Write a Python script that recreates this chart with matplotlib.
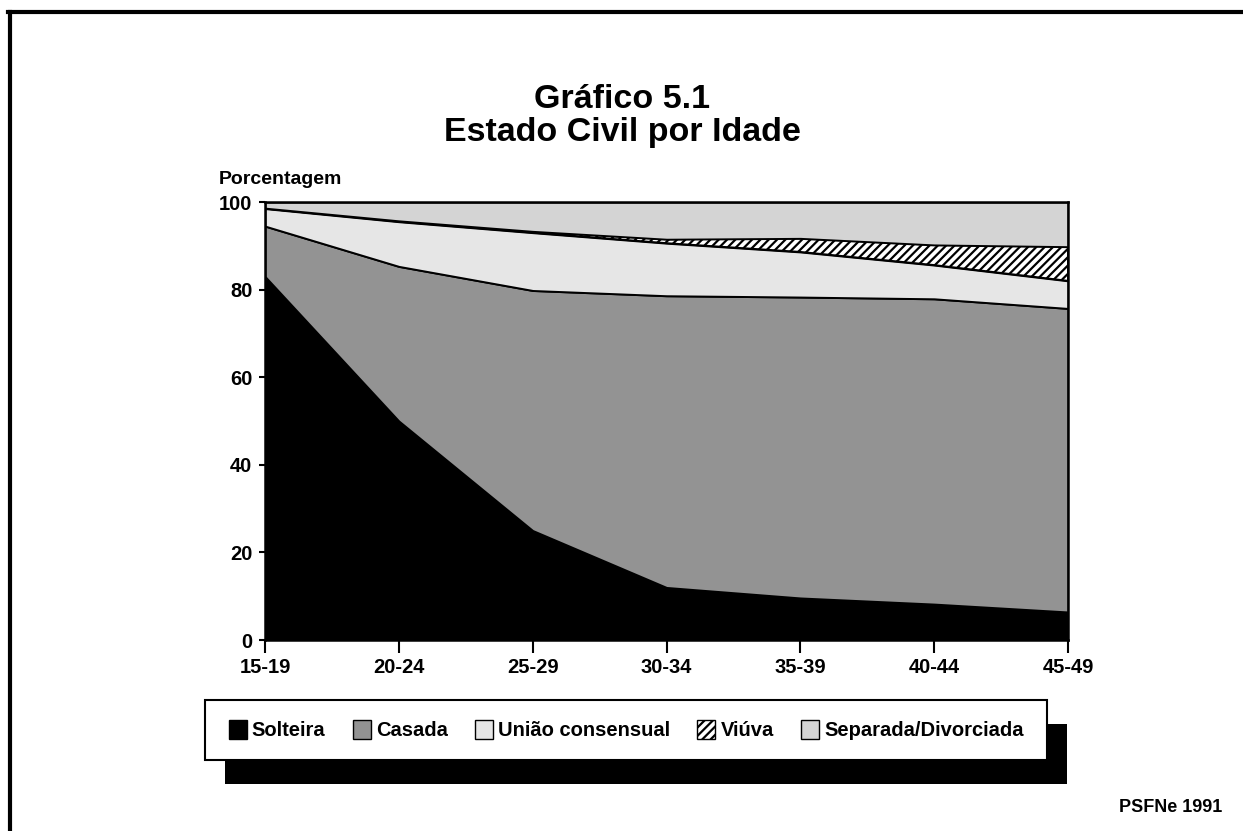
import matplotlib.pyplot as plt
from matplotlib.patches import Patch, Rectangle
from matplotlib.lines import Line2D

# dados (percentagens por grupo de idade)
idades = ['15-19', '20-24', '25-29', '30-34', '35-39', '40-44', '45-49']
solteira = [83.0, 50.0, 25.0, 12.0, 9.6, 8.2, 6.4]
casada = [11.5, 35.3, 54.8, 66.6, 68.7, 69.7, 69.3]
uniao = [4.0, 10.2, 13.2, 12.0, 10.3, 7.7, 6.3]
viuva = [0.1, 0.2, 0.3, 0.9, 3.1, 4.6, 7.8]
separada = [1.4, 4.3, 6.7, 8.5, 8.3, 9.8, 10.2]
nomes = ['Solteira', 'Casada', 'União consensual', 'Viúva', 'Separada/Divorciada']

plt.rcParams['font.family'] = ['Liberation Sans', 'DejaVu Sans']
plt.rcParams['font.weight'] = 'bold'
plt.rcParams['hatch.linewidth'] = 1.6

W, H = 1243, 831
fig = plt.figure(figsize=(W / 100, H / 100), dpi=100)
ax = fig.add_axes([265 / W, 1 - 640 / H, (1068 - 265) / W, (640 - 202) / H])

cores = ['black', '#939393', '#e6e6e6', 'white', '#d4d4d4']
x = list(range(len(idades)))
polys = ax.stackplot(x, solteira, casada, uniao, viuva, separada,
                     colors=cores, edgecolor='black', linewidth=1.4)
polys[3].set_hatch('////')

ax.set_xlim(0, 6)
ax.set_ylim(0, 100)
ax.set_xticks(x)
ax.set_xticklabels(idades)
ax.set_yticks(range(0, 101, 20))
ax.tick_params(axis='x', direction='out', length=9, width=1.5, pad=4, labelsize=14.5)
ax.tick_params(axis='y', direction='out', length=4, width=1.5, pad=5, labelsize=14.5)
for lab in ax.get_xticklabels() + ax.get_yticklabels():
    lab.set_fontweight('bold')
for s in ax.spines.values():
    s.set_linewidth(1.8)

fig.text(622 / W, 1 - 99 / H, 'Gráfico 5.1', ha='center', va='center',
         fontsize=24.5, fontweight='bold')
fig.text(622 / W, 1 - 132 / H, 'Estado Civil por Idade', ha='center', va='center',
         fontsize=24.5, fontweight='bold')
fig.text(219 / W, 1 - 180 / H, 'Porcentagem', ha='left', va='center',
         fontsize=14, fontweight='bold')
fig.text(1222 / W, 1 - 808 / H, 'PSFNe 1991', ha='right', va='center',
         fontsize=13, fontweight='bold')

# moldura da pagina (so topo e esquerda)
fig.add_artist(Line2D([8 / W, 1], [1 - 12 / H, 1 - 12 / H], color='black', lw=3))
fig.add_artist(Line2D([10 / W, 10 / W], [1 - 12 / H, 0], color='black', lw=3))

# legenda com sombra
bx0, bx1, by0, by1 = 205, 1047, 700, 760
fig.add_artist(Rectangle(((bx0 + 20) / W, 1 - (by1 + 24) / H), (bx1 - bx0) / W,
                         (by1 - by0) / H, facecolor='black', edgecolor='none'))
fig.add_artist(Rectangle((bx0 / W, 1 - by1 / H), (bx1 - bx0) / W, (by1 - by0) / H,
                         facecolor='white', edgecolor='black', lw=1.5))
handles = []
for i, n in enumerate(nomes):
    handles.append(Patch(facecolor=cores[i], edgecolor='black',
                         hatch='////' if i == 3 else None, label=n))
leg = fig.legend(handles=handles, loc='center', ncol=5,
                 bbox_to_anchor=((bx0 + bx1) / 2 / W, 1 - (by0 + by1) / 2 / H),
                 frameon=False, fontsize=14.5, handlelength=0.9, handleheight=1.1,
                 handletextpad=0.25, columnspacing=1.35)
for t in leg.get_texts():
    t.set_fontweight('bold')

fig.savefig('out.png', dpi=100)
